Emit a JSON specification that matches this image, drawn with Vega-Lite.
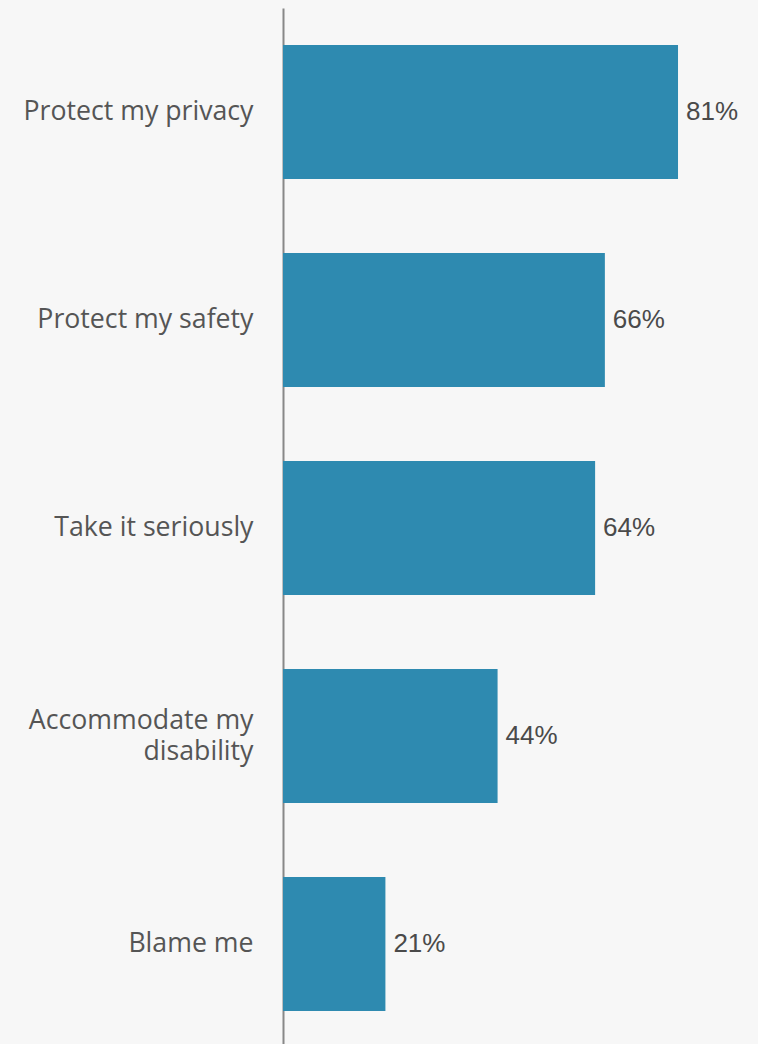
{
  "$schema": "https://vega.github.io/schema/vega-lite/v6.json",
  "width": 475,
  "height": 1040,
  "autosize": {"type": "none"},
  "padding": {"left": 283, "top": 8, "right": 0, "bottom": 0},
  "background": "#f7f7f7",
  "config": {"view": {"stroke": null}},
  "data": {"values": [
    {"item": "Protect my privacy", "pct": 81},
    {"item": "Protect my safety", "pct": 66},
    {"item": "Take it seriously", "pct": 64},
    {"item": "Accommodate my disability", "pct": 44},
    {"item": "Blame me", "pct": 21}
  ]},
  "encoding": {
    "y": {
      "field": "item", "type": "nominal", "sort": null, "title": null,
      "scale": {"paddingInner": 0.356, "paddingOuter": 0.178},
      "axis": {
        "ticks": false, "domainColor": "#888888", "domainWidth": 2,
        "labelFont": "Open Sans", "labelFontSize": 26.7, "labelColor": "#555555",
        "labelPadding": 30, "labelLimit": 300, "labelLineHeight": 31,
        "labelOffset": {"condition": {"test": "datum.value == 'Accommodate my disability'", "value": -15}, "value": 0},
        "labelExpr": "datum.value == 'Accommodate my disability' ? ['Accommodate my', 'disability'] : datum.value"
      }
    },
    "x": {
      "field": "pct", "type": "quantitative", "title": null,
      "scale": {"domain": [0, 97.4]}, "axis": null
    }
  },
  "layer": [
    {"mark": {"type": "bar", "color": "#2e8ab0"}},
    {"mark": {"type": "text", "align": "left", "baseline": "middle", "dx": 8, "font": "Liberation Sans", "fontSize": 26, "color": "#4a4a4a",
              "text": {"expr": "datum.pct + '%'"}}}
  ]
}
